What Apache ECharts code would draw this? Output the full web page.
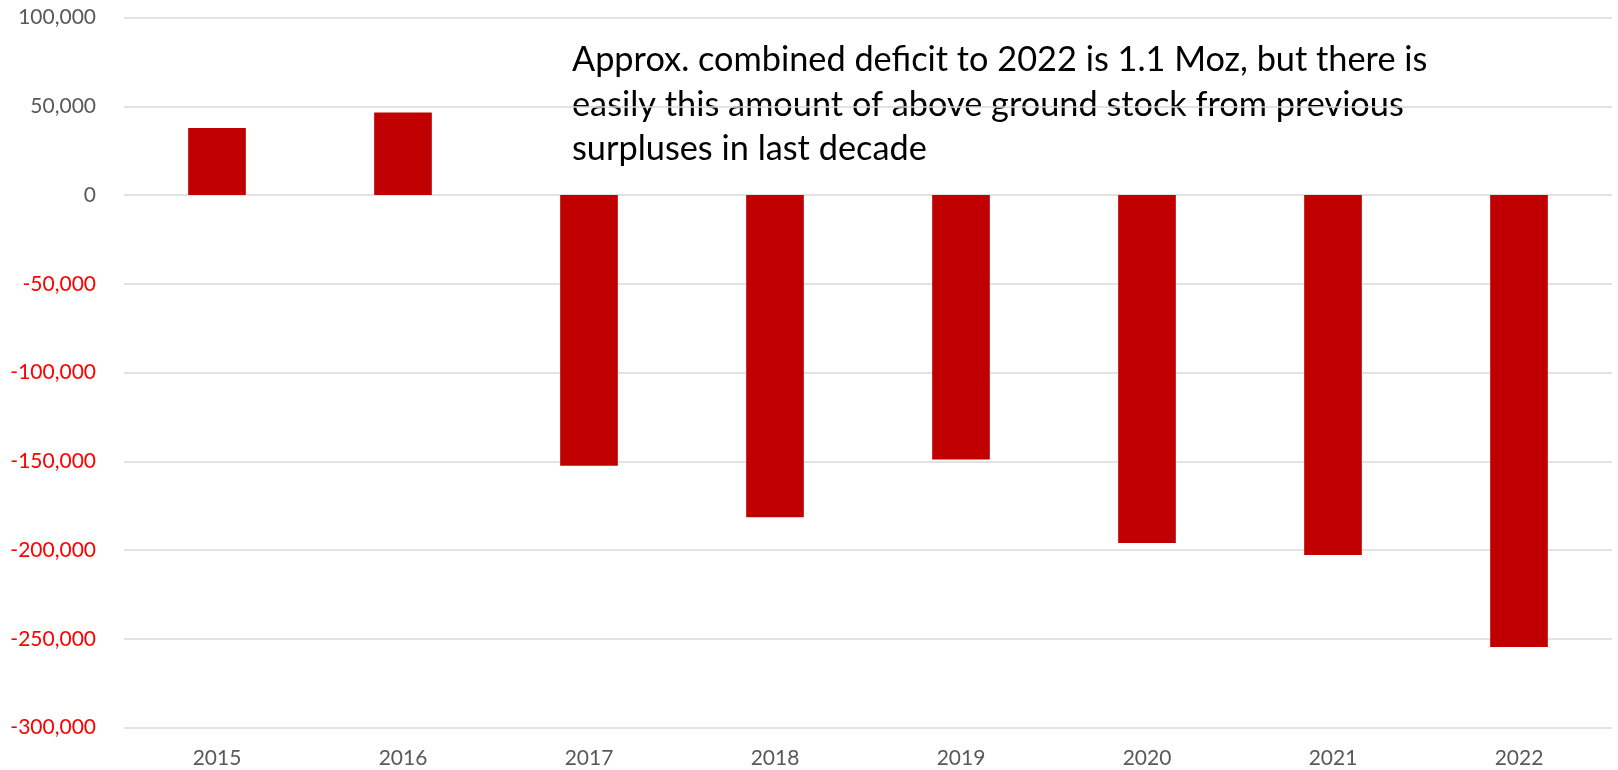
<!DOCTYPE html>
<html>
<head>
<meta charset="utf-8">
<script src="https://cdn.jsdelivr.net/npm/echarts@6/dist/echarts.min.js"></script>
<style>
  html, body { margin: 0; padding: 0; background: #fff; }
  #chart { width: 1618px; height: 770px; }
</style>
</head>
<body>
<div id="chart"></div>
<script>
var years = ['2015', '2016', '2017', '2018', '2019', '2020', '2021', '2022'];
var balance = [37700, 46500, -152400, -181500, -148900, -196000, -202700, -254500];
var noteLines = [
  'Approx. combined deficit to 2022 is 1.1 Moz, but there is',
  'easily this amount of above ground stock from previous',
  'surpluses in last decade'
];

var myChart = echarts.init(document.getElementById('chart'));

var option = {
  animation: false,
  grid: {
    left: 124,
    right: 6,
    top: 17.5,
    bottom: 42.3
  },
  xAxis: {
    type: 'category',
    data: years,
    axisLine: { show: false, onZero: false },
    axisTick: { show: false },
    axisLabel: {
      color: '#595959',
      fontFamily: 'Lato',
      fontSize: 21,
      margin: 20
    }
  },
  yAxis: {
    type: 'value',
    min: -300000,
    max: 100000,
    interval: 50000,
    axisLine: { show: false },
    axisTick: { show: false },
    splitLine: {
      lineStyle: { color: '#d9d9d9', width: 1.5 }
    },
    axisLabel: {
      fontFamily: 'Lato',
      fontSize: 21,
      margin: 28,
      color: function (value) {
        return value < 0 ? '#ff0000' : '#595959';
      },
      formatter: function (value) {
        return value.toLocaleString('en-US');
      }
    }
  },
  series: [
    {
      type: 'bar',
      data: balance,
      barWidth: '31%',
      itemStyle: { color: '#c00000' }
    }
  ],
  graphic: [
    {
      type: 'text',
      left: 572,
      top: 38,
      style: {
        text: noteLines.join('\n'),
        fill: '#000',
        font: '34.3px Lato',
        lineHeight: 44.5
      }
    }
  ]
};

myChart.setOption(option);
</script>
</body>
</html>
